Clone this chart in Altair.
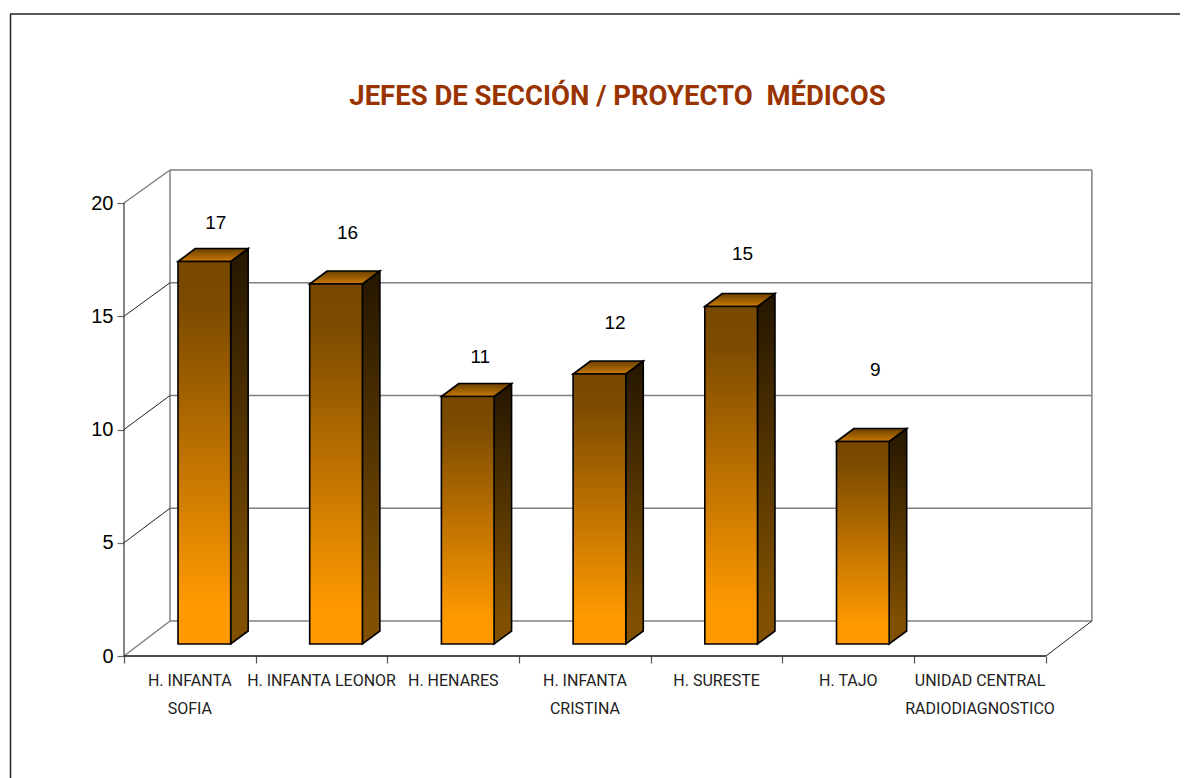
import altair as alt
import pandas as pd

categories = ["H. INFANTA\nSOFIA", "H. INFANTA LEONOR", "H. HENARES", "H. INFANTA\nCRISTINA",
              "H. SURESTE", "H. TAJO", "UNIDAD CENTRAL\nRADIODIAGNOSTICO"]
values = [17, 16, 11, 12, 15, 9]
label_lift = [1.11, 1.68, 1.19, 1.68, 1.73, 2.57]
label_shift = [0.087, 0.087, 0.095, 0.118, 0.087, 0.095]
y_ticks = [0, 5, 10, 15, 20]
title_text = "JEFES DE SECCIÓN / PROYECTO \u00a0MÉDICOS"

PX_X, PX_Y = 131.7, 22.65
W, H = 968, 486
n_cat = len(categories)
xs = alt.Scale(domain=[0, W / PX_X], nice=False, zero=False)
ys = alt.Scale(domain=[0, H / PX_Y], nice=False, zero=False)
x_ax = alt.Axis(values=list(range(n_cat + 1)), labels=False, title=None, domain=False, grid=False,
                ticks=True, tickSize=7, tickColor="#555555", tickWidth=1.2)
y_ax = alt.Axis(values=y_ticks, title=None, domain=False, grid=False, tickSize=7, tickColor="#666666",
                tickWidth=1.2, labelFont="Liberation Sans", labelFontSize=20, labelColor="#000000",
                labelPadding=4, labelFontWeight="normal")
X = lambda f="x": alt.X(f"{f}:Q", scale=xs, axis=x_ax)
Y = lambda f="y": alt.Y(f"{f}:Q", scale=ys, axis=y_ax)

DEPTH_X, DEPTH_Y = 46 / PX_X, 35 / PX_Y      # wall depth
BAR_DX, BAR_DY = 17.5 / PX_X, 13 / PX_Y      # bar depth
BAR_L, BAR_W = 0.41, 0.40                    # bar front within a category
BAR_BASE, BAR_K, WALL_K = 12 / PX_Y, 22.5 / PX_Y, 0.9956
GRID = "#7f7f7f"

back = lambda v: DEPTH_Y + v * WALL_K

def grad(top, *rest):
    stops = [alt.GradientStop(offset=0, color=top)]
    stops += [alt.GradientStop(offset=o, color=c) for o, c in rest]
    return alt.Gradient(gradient="linear", x1=0, x2=0, y1=0, y2=1, stops=stops)

# walls
grid = pd.DataFrame({"x": [DEPTH_X] * 5, "x2": [DEPTH_X + n_cat] * 5, "y": [back(v) for v in y_ticks]})
grid_l = alt.Chart(grid).mark_rule(color=GRID, strokeWidth=1.5).encode(x=X(), x2="x2:Q", y=Y())
walls = pd.DataFrame({"x": [DEPTH_X, DEPTH_X + n_cat], "y": [back(0)] * 2, "y2": [back(20)] * 2})
walls_l = alt.Chart(walls).mark_rule(color=GRID, strokeWidth=1.5).encode(x=X(), y=Y(), y2="y2:Q")

# diagonals on the side wall and the floor
diag = pd.DataFrame({"x": [0.0] * 5, "x2": [DEPTH_X] * 5, "y": y_ticks,
                     "y2": [back(v) for v in y_ticks],
                     "c": ["g", "d", "d", "d", "g"]})
diag_g = alt.Chart(diag[diag.c == "g"]).mark_rule(color=GRID, strokeWidth=1.5).encode(
    x=X(), x2="x2:Q", y=Y(), y2="y2:Q")
diag_d = alt.Chart(diag[diag.c == "d"]).mark_rule(color="#222222", strokeWidth=1).encode(
    x=X(), x2="x2:Q", y=Y(), y2="y2:Q")
floor_r = alt.Chart(pd.DataFrame({"x": [float(n_cat)], "x2": [n_cat + DEPTH_X], "y": [0.0], "y2": [back(0)]})
                    ).mark_rule(color="#222222", strokeWidth=1).encode(x=X(), x2="x2:Q", y=Y(), y2="y2:Q")

# axis lines
x_axis = alt.Chart(pd.DataFrame({"x": [0.0], "x2": [float(n_cat)], "y": [0.0]})).mark_rule(
    color="#111111", strokeWidth=1.5).encode(x=X(), x2="x2:Q", y=Y())
y_axis = alt.Chart(pd.DataFrame({"x": [0.0], "y": [0.0], "y2": [20.0]})).mark_rule(
    color="#444444", strokeWidth=1.3).encode(x=X(), y=Y(), y2="y2:Q")

# bars
rows = []
for i, v in enumerate(values):
    rows.append({"cat": i, "l": i + BAR_L, "r": i + BAR_L + BAR_W, "b": BAR_BASE, "t": BAR_BASE + v * BAR_K})
bars = pd.DataFrame(rows)
side_rows, top_rows = [], []
for b in rows:
    for k in (0, 1):
        side_rows.append({"cat": b["cat"], "x": b["r"] + k * BAR_DX, "y": b["t"] + k * BAR_DY,
                          "y2": b["b"] + k * BAR_DY})
        top_rows.append({"cat": b["cat"], "y": b["t"] + k * BAR_DY, "x": b["l"] + k * BAR_DX,
                         "x2": b["r"] + k * BAR_DX})

front = alt.Chart(bars).mark_rect(
    color=grad("#784800", (0.12, "#7d4b00"), (0.9, "#ff9900"), (1, "#ff9900")),
    stroke="#000000", strokeWidth=1.6).encode(x=X("l"), x2="r:Q", y=Y("t"), y2="b:Q")
side = alt.Chart(pd.DataFrame(side_rows)).mark_area(
    color=grad("#241600", (0.9, "#805000"), (1, "#805000")),
    stroke="#000000", strokeWidth=1.6, orient="vertical", interpolate="linear").encode(
    x=X(), y=Y(), y2="y2:Q", detail="cat:N")
top = alt.Chart(pd.DataFrame(top_rows)).mark_area(
    color=grad("#6a4000", (1, "#cc7a00")),
    stroke="#000000", strokeWidth=1.6, orient="horizontal", interpolate="linear").encode(
    x=X(), x2="x2:Q", y=Y(), detail="cat:N")

# texts
val_df = pd.DataFrame({"x": [i + BAR_L + BAR_W / 2 + s for i, s in enumerate(label_shift)],
                       "y": [BAR_BASE + v * BAR_K + BAR_DY + l for v, l in zip(values, label_lift)],
                       "t": [str(v) for v in values]})
val_l = alt.Chart(val_df).mark_text(font="Liberation Sans", fontSize=19, color="#000000", baseline="middle").encode(
    x=X(), y=Y(), text="t:N")
cat_df = pd.DataFrame({"x": [i + 0.5 for i in range(n_cat)], "t": categories})
cat_l = alt.Chart(cat_df).mark_text(font="Roboto", fontSize=16, color="#222222", lineBreak="\n",
                                    lineHeight=28, baseline="alphabetic", align="center").encode(
    x=X(), y=alt.value(515.5), text="t:N")

# outer frame
frame_top = alt.Chart(pd.DataFrame({"a": [0]})).mark_rule(color="#222222", strokeWidth=1.5).encode(
    x=alt.value(-114), x2=alt.value(1056), y=alt.value(-156))
frame_left = alt.Chart(pd.DataFrame({"a": [0]})).mark_rule(color="#222222", strokeWidth=1.5).encode(
    x=alt.value(-113.5), y=alt.value(-156), y2=alt.value(608))

chart = alt.layer(frame_top, frame_left, grid_l, walls_l, diag_g, diag_d, floor_r, x_axis, y_axis,
                  side, top, front, val_l, cat_l).properties(
    width=W, height=H,
    autosize=alt.AutoSizeParams(type="none"),
    padding={"left": 116, "top": 162, "right": 88, "bottom": 122},
    title=alt.TitleParams(title_text, font="Roboto", fontSize=27.5, fontWeight="bold",
                          color="#993300", anchor="middle", dx=9.5, dy=97, offset=0),
).configure_view(stroke=None)

chart.save("out.html", embed_options={"renderer": "svg", "actions": False})
